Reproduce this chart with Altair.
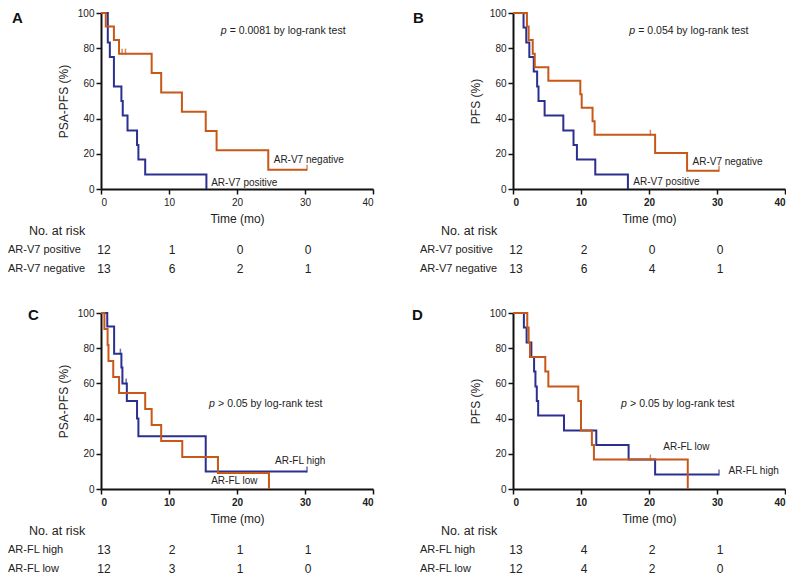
import altair as alt
import pandas as pd

BLUE = "#2b3090"
ORANGE = "#c8581a"
FONT = "Liberation Sans, Arial, Helvetica, sans-serif"
W, H = 272, 176

risk_times = [0, 10, 20, 30]

# ---------------- Panel A : PSA-PFS by AR-V7 ----------------
a_pos_time = [0, 1.0, 1.3, 1.9, 3.0, 3.2, 3.9, 5.3, 5.5, 6.5, 15.5]
a_pos_surv = [100, 83.3, 75.0, 58.3, 50.0, 41.7, 33.3, 25.0, 16.7, 8.3, 0]
a_neg_time = [0, 0.7, 1.9, 2.65, 7.45, 8.85, 11.9, 15.4, 17.0, 24.6, 30.3]
a_neg_surv = [100, 92.3, 84.6, 76.9, 65.9, 54.9, 43.9, 32.9, 22.0, 11.0, 11.0]
a_neg_cens_time = [3.1, 3.6, 30.3]
a_neg_cens_surv = [76.9, 76.9, 11.0]
a_risk_pos = [12, 1, 0, 0]
a_risk_neg = [13, 6, 2, 1]

# ---------------- Panel B : PFS by AR-V7 ----------------
b_pos_time = [0, 1.55, 1.95, 2.4, 3.05, 3.55, 3.75, 4.65, 7.4, 8.9, 9.4, 12.1, 16.9]
b_pos_surv = [100, 91.7, 83.3, 75.0, 66.7, 58.3, 50.0, 41.7, 33.3, 25.0, 16.7, 8.3, 0]
b_neg_time = [0, 2.05, 2.3, 2.9, 3.2, 5.2, 9.9, 10.1, 11.7, 12.0, 20.9, 25.6, 30.3]
b_neg_surv = [100, 92.3, 84.6, 76.9, 69.2, 61.5, 53.8, 46.2, 38.5, 30.8, 20.5, 10.3, 10.3]
b_neg_cens_time = [20.2, 30.3]
b_neg_cens_surv = [30.8, 10.3]
b_risk_pos = [12, 2, 0, 0]
b_risk_neg = [13, 6, 4, 1]

# ---------------- Panel C : PSA-PFS by AR-FL ----------------
c_high_time = [0, 0.92, 1.93, 3.0, 3.15, 3.8, 5.3, 5.5, 15.4, 30.3]
c_high_surv = [100, 92.3, 76.9, 69.0, 60.0, 50.0, 40.0, 30.0, 10.0, 10.0]
c_high_cens_time = [2.85, 3.7, 30.3]
c_high_cens_surv = [76.9, 60.0, 10.0]
c_low_time = [0, 0.5, 0.97, 1.1, 1.8, 2.66, 6.5, 7.45, 8.85, 11.95, 17.2, 24.7]
c_low_surv = [100, 90.9, 81.8, 72.7, 63.6, 54.5, 45.5, 36.4, 27.3, 18.2, 9.1, 0]
c_risk_high = [13, 2, 1, 1]
c_risk_low = [12, 3, 1, 0]

# ---------------- Panel D : PFS by AR-FL ----------------
d_high_time = [0, 1.6, 2.0, 2.7, 3.1, 3.3, 3.5, 3.7, 7.5, 12.25, 17.0, 20.9, 30.3]
d_high_surv = [100, 91.7, 83.3, 75.0, 66.7, 58.3, 50.0, 41.7, 33.3, 25.0, 16.7, 8.3, 8.3]
d_high_cens_time = [30.3]
d_high_cens_surv = [8.3]
d_low_time = [0, 2.1, 2.3, 2.5, 4.75, 5.2, 9.6, 10.0, 11.6, 11.9, 25.7]
d_low_surv = [100, 91.7, 83.3, 75.0, 66.7, 58.3, 50.0, 33.3, 25.0, 16.7, 0]
d_low_cens_time = [20.2]
d_low_cens_surv = [16.7]
d_risk_high = [13, 4, 2, 1]
d_risk_low = [12, 4, 2, 0]


def make_panel(series, censors, curve_labels, p_text, p_pos, ytitle, letter,
               letter_pos, risk_rows, xbold):
    names = [s[0] for s in series]
    cscale = alt.Scale(domain=names, range=[BLUE, ORANGE])
    color = alt.Color("g:N", scale=cscale, legend=None)
    x_enc = alt.X("t:Q", scale=alt.Scale(domain=[0, 40], nice=False, zero=False),
                  axis=alt.Axis(values=[0, 10, 20, 30, 40], title="Time (mo)",
                                labelFontWeight="bold" if xbold else "normal",
                                labelPadding=3, titlePadding=6))
    y_enc = alt.Y("s:Q", scale=alt.Scale(domain=[0, 100], nice=False),
                  axis=alt.Axis(values=[0, 20, 40, 60, 80, 100], title=ytitle,
                                titlePadding=7))

    line_df = pd.concat([pd.DataFrame({"g": n, "t": t, "s": s}) for n, t, s in series])
    lines = alt.Chart(line_df).mark_line(interpolate="step-after", strokeWidth=2).encode(
        x=x_enc, y=y_enc, color=color, detail="g:N")

    cens_df = pd.concat([pd.DataFrame({"g": n, "t": t, "s": s}) for n, t, s in censors])
    ticks = alt.Chart(cens_df).mark_tick(orient="vertical", size=6, thickness=1.5,
                                         yOffset=-2).encode(x=x_enc, y=y_enc, color=color)

    lbl_df = pd.DataFrame({"t": [c[1] for c in curve_labels],
                           "s": [c[2] for c in curve_labels],
                           "txt": [c[0] for c in curve_labels]})
    lbls = alt.Chart(lbl_df).mark_text(align="left", baseline="middle", fontSize=10,
                                       font=FONT, color="#222").encode(
        x=x_enc, y=y_enc, text="txt:N")

    p_df = pd.DataFrame({"t": [p_pos[0]], "s": [p_pos[1]], "p": ["p"], "rest": [p_text]})
    p1 = alt.Chart(p_df).mark_text(align="left", baseline="middle", fontSize=10.5,
                                   font=FONT, fontStyle="italic", color="#222").encode(
        x=x_enc, y=y_enc, text="p:N")
    p2 = alt.Chart(p_df).mark_text(align="left", baseline="middle", fontSize=10.5,
                                   font=FONT, dx=9, color="#222").encode(
        x=x_enc, y=y_enc, text="rest:N")

    let_df = pd.DataFrame({"L": [letter]})
    let = alt.Chart(let_df).mark_text(align="left", baseline="middle", fontSize=15,
                                      fontWeight="bold", font=FONT, color="#111").encode(
        x=alt.value(letter_pos[0]), y=alt.value(letter_pos[1]), text="L:N")

    hdr_df = pd.DataFrame({"h": ["No. at risk"]})
    hdr = alt.Chart(hdr_df).mark_text(align="center", baseline="middle", fontSize=12.5,
                                      font=FONT, color="#222").encode(
        x=alt.value(-44), y=alt.value(H + 42), text="h:N")

    rows = []
    for r, (nm, counts) in enumerate(risk_rows):
        for tt, c in zip(risk_times, counts):
            rows.append({"r": r, "t": tt, "n": str(c)})
    num_df = pd.DataFrame(rows)
    nums = alt.Chart(num_df).transform_calculate(
        py=f"{H + 61} + 19 * datum.r").mark_text(
        align="center", baseline="middle", fontSize=12, font=FONT, dx=3, color="#222").encode(
        x=x_enc, y=alt.Y("py:Q", scale=None, axis=None), text="n:N")

    name_df = pd.DataFrame({"r": list(range(len(risk_rows))),
                            "nm": [rr[0] for rr in risk_rows]})
    nms = alt.Chart(name_df).transform_calculate(
        py=f"{H + 61} + 19 * datum.r").mark_text(
        align="left", baseline="middle", fontSize=11, font=FONT, color="#222").encode(
        x=alt.value(-93), y=alt.Y("py:Q", scale=None, axis=None), text="nm:N")

    return alt.layer(lines, ticks, lbls, p1, p2, let, hdr, nums, nms).properties(
        width=W, height=H)


pA = make_panel(
    [("AR-V7 positive", a_pos_time, a_pos_surv), ("AR-V7 negative", a_neg_time, a_neg_surv)],
    [("AR-V7 negative", a_neg_cens_time, a_neg_cens_surv)],
    [("AR-V7 negative", 25.4, 16.5), ("AR-V7 positive", 16.2, 3.6)],
    "= 0.0081 by log-rank test", (17.6, 90), "PSA-PFS (%)", "A", (-89, 5),
    [("AR-V7 positive", a_risk_pos), ("AR-V7 negative", a_risk_neg)], False)

pB = make_panel(
    [("AR-V7 positive", b_pos_time, b_pos_surv), ("AR-V7 negative", b_neg_time, b_neg_surv)],
    [("AR-V7 negative", b_neg_cens_time, b_neg_cens_surv)],
    [("AR-V7 negative", 26.4, 15.5), ("AR-V7 positive", 17.7, 4.0)],
    "= 0.054 by log-rank test", (17.1, 90), "PFS (%)", "B", (-100, 5),
    [("AR-V7 positive", b_risk_pos), ("AR-V7 negative", b_risk_neg)], True)

pC = make_panel(
    [("AR-FL high", c_high_time, c_high_surv), ("AR-FL low", c_low_time, c_low_surv)],
    [("AR-FL high", c_high_cens_time, c_high_cens_surv)],
    [("AR-FL high", 25.6, 16.0), ("AR-FL low", 16.2, 4.7)],
    "> 0.05 by log-rank test", (15.9, 48.3), "PSA-PFS (%)", "C", (-73, 2),
    [("AR-FL high", c_risk_high), ("AR-FL low", c_risk_low)], True)

pD = make_panel(
    [("AR-FL high", d_high_time, d_high_surv), ("AR-FL low", d_low_time, d_low_surv)],
    [("AR-FL high", d_high_cens_time, d_high_cens_surv), ("AR-FL low", d_low_cens_time, d_low_cens_surv)],
    [("AR-FL low", 22.1, 23.8), ("AR-FL high", 31.7, 10.2)],
    "> 0.05 by log-rank test", (15.9, 48.3), "PFS (%)", "D", (-101, 2),
    [("AR-FL high", d_risk_high), ("AR-FL low", d_risk_low)], True)

chart = alt.concat(pA, pB, pC, pD, columns=2,
                   spacing={"row": 124, "column": 140}, bounds="flush").properties(
    padding=0).configure_view(stroke=None).configure_axis(
    grid=False, domainColor="#111", domainWidth=2, tickColor="#111", tickWidth=1.5,
    tickSize=5, labelFont=FONT, labelFontSize=10, labelColor="#222",
    titleFont=FONT, titleFontSize=12, titleFontWeight="normal", titleColor="#222")

chart.save("out.html", embed_options={"renderer": "svg", "actions": False})
